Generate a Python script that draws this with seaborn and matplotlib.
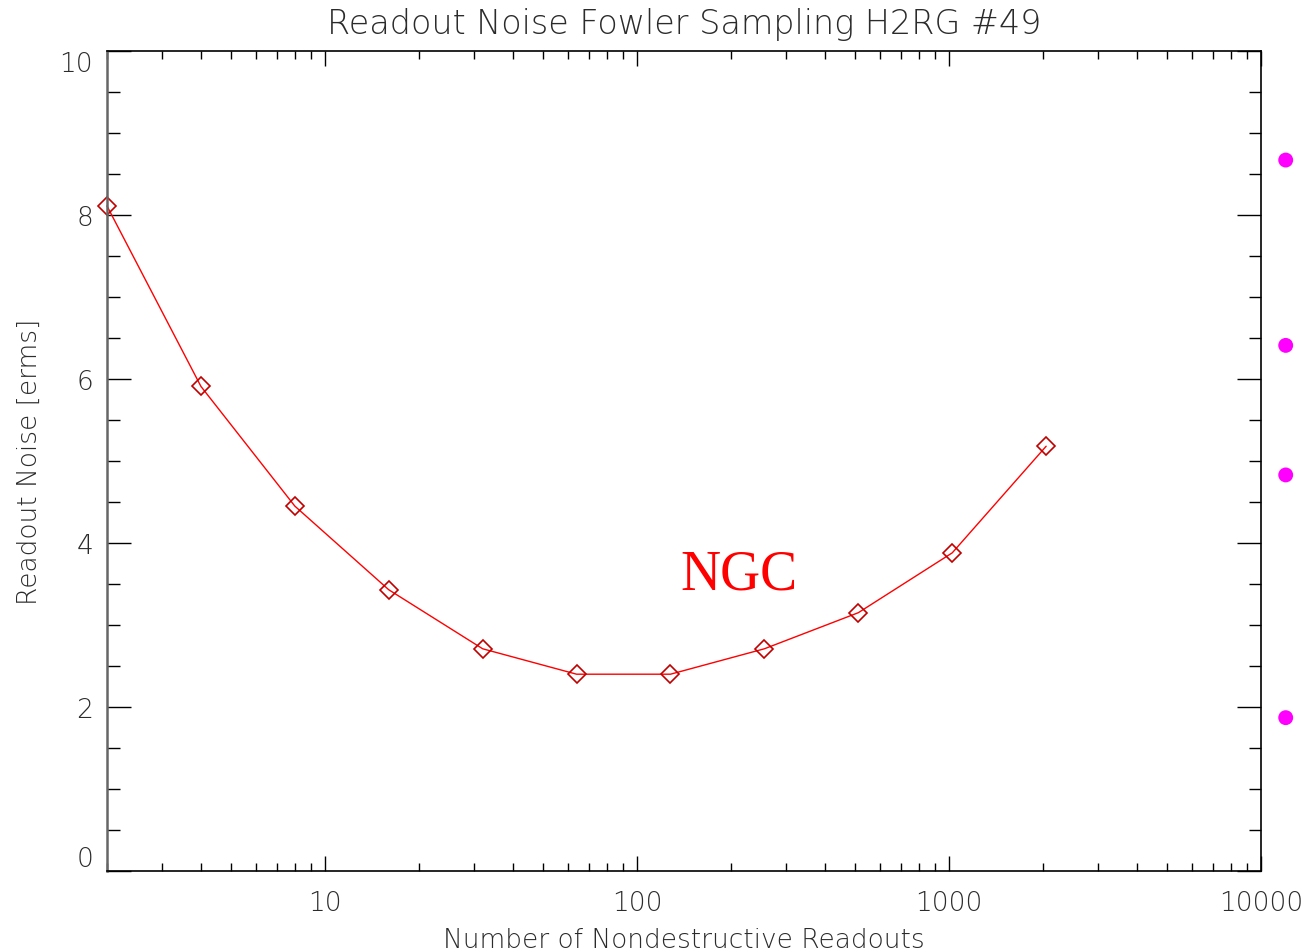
import matplotlib
matplotlib.use("Agg")
import matplotlib.pyplot as plt
import matplotlib.ticker as mticker
import seaborn as sns
import pandas as pd

# Fowler sampling: number of nondestructive readouts vs. readout noise
readouts = [2, 4, 8, 16, 32, 64, 128, 256, 512, 1024, 2048]
noise = [8.11, 5.91, 4.45, 3.43, 2.71, 2.40, 2.40, 2.71, 3.15, 3.88, 5.18]

# reference levels drawn just outside the right edge
ref_x = [12000, 12000, 12000, 12000]
ref_y = [8.67, 6.41, 4.83, 1.87]

x_ticks = [10, 100, 1000, 10000]
x_ticklabels = ["10", "100", "1000", "10000"]
y_ticks = [0, 2, 4, 6, 8, 10]
y_ticklabels = ["0", "2", "4", "6", "8", "10"]

sns.set_theme(style="ticks")
plt.rcParams["font.family"] = ["DejaVu Sans"]
plt.rcParams["font.weight"] = "light"

df = pd.DataFrame({"readouts": readouts, "noise": noise})
ref = pd.DataFrame({"x": ref_x, "y": ref_y})

fig = plt.figure(figsize=(13.08, 9.53), dpi=100)
ax = fig.add_axes([107 / 1308, 1 - 872 / 953, (1261 - 107) / 1308, (872 - 52) / 953])

sns.lineplot(data=df, x="readouts", y="noise", ax=ax, color="#ff0000", linewidth=1.0,
             marker="D", markersize=9, markerfacecolor="none",
             markeredgecolor="#c00000", markeredgewidth=1.2, clip_on=False)
sns.scatterplot(data=ref, x="x", y="y", ax=ax, color="#ff00ff", s=115,
                edgecolor="none", clip_on=False, zorder=5)

ax.set_xscale("log")
ax.set_xlim(2, 10000)
ax.set_ylim(0, 10)

ax.xaxis.set_major_locator(mticker.FixedLocator(x_ticks))
ax.xaxis.set_major_formatter(mticker.FixedFormatter(x_ticklabels))
ax.xaxis.set_minor_locator(mticker.LogLocator(base=10, subs=range(2, 10)))
ax.xaxis.set_minor_formatter(mticker.NullFormatter())
ax.yaxis.set_major_locator(mticker.FixedLocator(y_ticks))
ax.yaxis.set_major_formatter(mticker.FixedFormatter(y_ticklabels))
ax.yaxis.set_minor_locator(mticker.MultipleLocator(0.5))

txt = "#2b2b2b"
ax.tick_params(axis="both", which="both", direction="in", top=True, right=True,
               color="black", width=1.0, labelsize=19, labelcolor=txt)
ax.tick_params(axis="x", which="major", length=11, pad=14)
ax.tick_params(axis="x", which="minor", length=6)
ax.tick_params(axis="y", which="major", length=17, pad=10)
ax.tick_params(axis="y", which="minor", length=9)
for lab in ax.get_xticklabels() + ax.get_yticklabels():
    lab.set_fontweight("light")

# keep the end labels of the y axis inside the axis range
ylabs = ax.get_yticklabels()
ylabs[0].set_verticalalignment("bottom")
ylabs[-1].set_verticalalignment("top")

for s in ax.spines.values():
    s.set_color("black")
    s.set_linewidth(1.2)
ax.spines["left"].set_color("#666666")
ax.spines["left"].set_linewidth(1.8)

ax.set_xlabel("Number of Nondestructive Readouts", fontsize=19, color=txt,
              fontweight="light", labelpad=8)
ax.set_ylabel("Readout Noise [erms]", fontsize=19, color=txt,
              fontweight="light", labelpad=13)
ax.set_title("Readout Noise Fowler Sampling H2RG #49", fontsize=24, color=txt,
             fontweight="light", pad=13)

ax.text(212, 3.61, "NGC", fontsize=40, color="#ff0000", family="Liberation Serif",
        ha="center", va="center", fontweight="normal")

fig.savefig("out.png", dpi=100)
